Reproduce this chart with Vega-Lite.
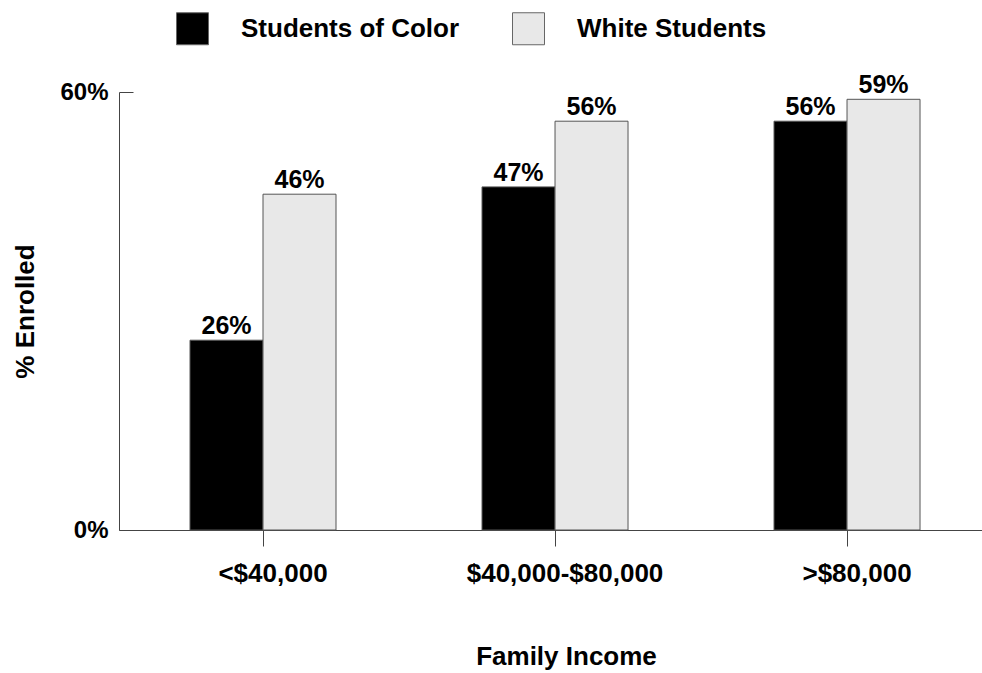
{
  "$schema": "https://vega.github.io/schema/vega-lite/v6.json",
  "width": 863,
  "height": 438,
  "autosize": {"type": "none"},
  "padding": {"left": 119, "top": 92, "right": 0, "bottom": 143},
  "background": "white",
  "config": {
    "view": {"stroke": null},
    "font": "Liberation Sans, Arial, sans-serif"
  },
  "data": {
    "values": [
      {"income": "<$40,000", "group": "Students of Color", "value": 26},
      {"income": "<$40,000", "group": "White Students", "value": 46},
      {"income": "$40,000-$80,000", "group": "Students of Color", "value": 47},
      {"income": "$40,000-$80,000", "group": "White Students", "value": 56},
      {"income": ">$80,000", "group": "Students of Color", "value": 56},
      {"income": ">$80,000", "group": "White Students", "value": 59}
    ]
  },
  "encoding": {
    "x": {
      "field": "income",
      "type": "nominal",
      "sort": ["<$40,000", "$40,000-$80,000", ">$80,000"],
      "scale": {"paddingInner": 0.5, "paddingOuter": 0.2277, "align": 0.534},
      "axis": {
        "title": "Family Income",
        "titleFont": "Liberation Sans",
        "titleFontSize": 26,
        "titleFontWeight": "bold",
        "titleColor": "black",
        "titleX": 447,
        "titleY": 134,
        "titleBaseline": "alphabetic",
        "titleAlign": "center",
        "labelFont": "Liberation Sans",
        "labelFontSize": 26,
        "labelFontWeight": "bold",
        "labelColor": "black",
        "labelAngle": 0,
        "labelPadding": 14,
        "labelOffset": 10,
        "labelLimit": 400,
        "tickSize": 16,
        "tickColor": "#444",
        "domainColor": "#444",
        "grid": false
      }
    },
    "xOffset": {"field": "group", "type": "nominal", "sort": ["Students of Color", "White Students"]},
    "y": {
      "field": "value",
      "type": "quantitative",
      "scale": {"domain": [0, 60], "nice": false},
      "axis": {
        "title": "% Enrolled",
        "titleFont": "Liberation Sans",
        "titleFontSize": 26,
        "titleFontWeight": "bold",
        "titleColor": "black",
        "titleAngle": -90,
        "titleX": -86,
        "titleY": 219,
        "titleBaseline": "alphabetic",
        "titleAlign": "center",
        "values": [0, 60],
        "labelExpr": "datum.value + '%'",
        "labelFontSize": 24,
        "labelFontWeight": "bold",
        "labelColor": "black",
        "labelPadding": 25,
        "tickSize": -14,
        "tickColor": "#444",
        "domainColor": "#444",
        "grid": false
      }
    }
  },
  "layer": [
    {
      "mark": {"type": "bar", "stroke": "#555", "strokeWidth": 1},
      "encoding": {
        "color": {
          "field": "group",
          "type": "nominal",
          "scale": {"domain": ["Students of Color", "White Students"], "range": ["#000000", "#e8e8e8"]},
          "legend": {
            "title": null,
            "orient": "none",
            "direction": "horizontal",
            "columns": 2,
            "legendX": 57,
            "legendY": -80,
            "padding": 0,
            "symbolType": "square",
            "symbolSize": 1024,
            "symbolStrokeColor": "#666",
            "symbolStrokeWidth": 1,
            "labelFont": "Liberation Sans",
            "labelFontSize": 26,
            "labelFontWeight": "bold",
            "labelColor": "black",
            "labelOffset": 32,
            "labelLimit": 400,
            "columnPadding": 50
          }
        }
      }
    },
    {
      "transform": [{"calculate": "datum.value + '%'", "as": "label"}],
      "mark": {"type": "text", "baseline": "alphabetic", "dy": -6, "fontSize": 25, "fontWeight": "bold", "color": "black"},
      "encoding": {
        "text": {"field": "label", "type": "nominal"},
        "detail": {"field": "group"}
      }
    }
  ]
}
